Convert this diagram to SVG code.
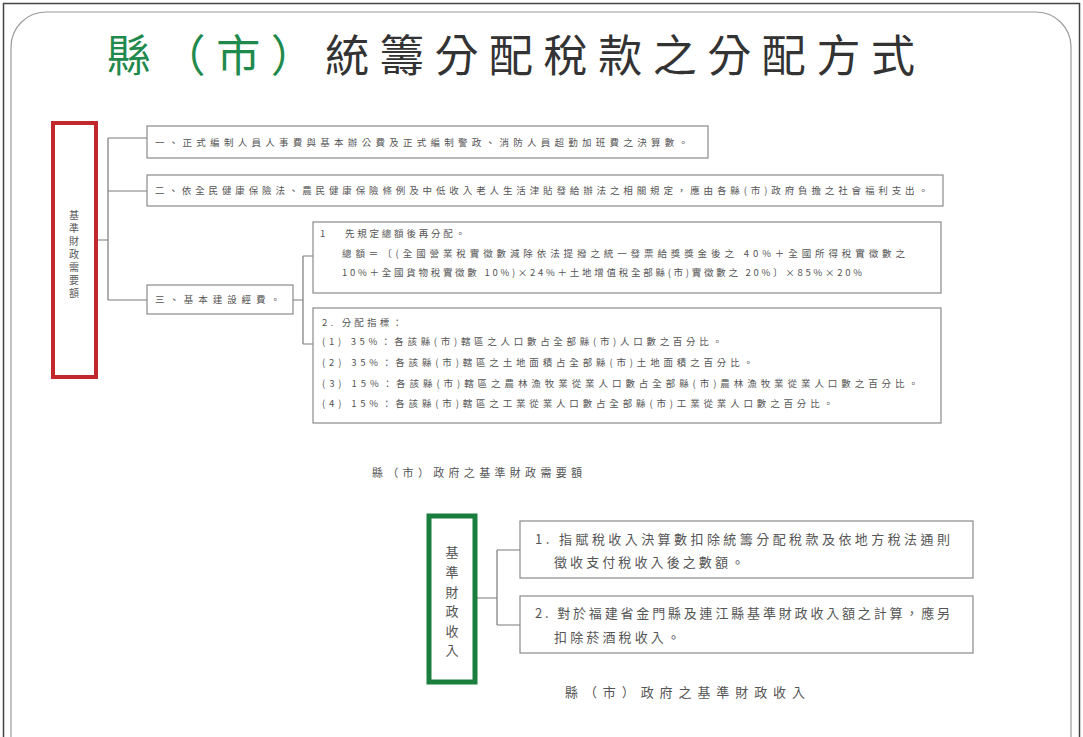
<svg xmlns="http://www.w3.org/2000/svg" width="1083" height="737" viewBox="0 0 1083 737">
<defs>
<style>
.t{font-family:"Noto Sans CJK TC","Noto Sans CJK SC",sans-serif;fill:#555;}
.s{font-size:9.5px;}
.m{font-size:10px;}
.l{font-size:13px;}
.box{fill:#fff;stroke:#8a8a8a;stroke-width:1.2;}
.con{fill:none;stroke:#7a7a7a;stroke-width:1.2;}
</style>
</defs>
<rect x="0" y="0" width="1083" height="737" fill="#fff"/>
<rect x="3.5" y="3.5" width="1076" height="760" fill="none" stroke="#444" stroke-width="1.5"/>
<rect x="11" y="12" width="1060" height="770" rx="35" fill="none" stroke="#9a9a9a" stroke-width="1.2"/>

<g id="title">
<text class="t" x="107" y="72" font-size="44" textLength="808" lengthAdjust="spacing" fill="#333" style="fill:#333"><tspan fill="#1f8a4c" style="fill:#1f8a4c">縣（市）</tspan>統籌分配稅款之分配方式</text>
</g>

<g id="connectors">
<path class="con" d="M97 240 H108 M108 138 V300 M108 138 H147 M108 191 H147 M108 300 H147"/>
<path class="con" d="M293 300 H303 M303 256 V344 M303 256 H313 M303 344 H313"/>
<path class="con" d="M476 598 H497 M497 550 V625 M497 550 H520 M497 625 H520"/>
</g>

<g id="node-need">
<rect x="53" y="123" width="43" height="254" fill="#fff" stroke="#c1272d" stroke-width="4"/>
<text class="t m" text-anchor="middle"><tspan x="74" y="219">基</tspan><tspan x="74" y="232">準</tspan><tspan x="74" y="245">財</tspan><tspan x="74" y="258">政</tspan><tspan x="74" y="271">需</tspan><tspan x="74" y="284">要</tspan><tspan x="74" y="297">額</tspan></text>
</g>

<g id="node-item1">
<rect class="box" x="147" y="126" width="561" height="32"/>
<text class="t s" x="155" y="145.5" textLength="533" lengthAdjust="spacing">一、正式編制人員人事費與基本辦公費及正式編制警政、消防人員超勤加班費之決算數。</text>
</g>

<g id="node-item2">
<rect class="box" x="147" y="175" width="796" height="31"/>
<text class="t s" x="155" y="194" textLength="773" lengthAdjust="spacing">二、依全民健康保險法、農民健康保險條例及中低收入老人生活津貼發給辦法之相關規定，應由各縣(市)政府負擔之社會福利支出。</text>
</g>

<g id="node-item3">
<rect class="box" x="147" y="285" width="146" height="29"/>
<text class="t s" x="155" y="303" textLength="125" lengthAdjust="spacing">三、基本建設經費。</text>
</g>

<g id="node-item3-1">
<rect class="box" x="313" y="222" width="628" height="71"/>
<text class="t s" x="320" y="236.5">1</text>
<text class="t s" x="345" y="236.5" textLength="120" lengthAdjust="spacing">先規定總額後再分配。</text>
<text class="t s" x="342" y="256.5" textLength="563" lengthAdjust="spacing">總額＝〔(全國營業稅實徵數減除依法提撥之統一發票給獎獎金後之 40%＋全國所得稅實徵數之</text>
<text class="t s" x="342" y="275.5" textLength="520" lengthAdjust="spacing">10%＋全國貨物稅實徵數 10%)×24%＋土地增值稅全部縣(市)實徵數之 20%〕×85%×20%</text>
</g>

<g id="node-item3-2">
<rect class="box" x="313" y="308" width="628" height="115"/>
<text class="t s" x="322" y="325.5" textLength="80" lengthAdjust="spacing">2. 分配指標：</text>
<text class="t s" x="322" y="344.5" textLength="400" lengthAdjust="spacing">(1) 35%：各該縣(市)轄區之人口數占全部縣(市)人口數之百分比。</text>
<text class="t s" x="322" y="365.5" textLength="431" lengthAdjust="spacing">(2) 35%：各該縣(市)轄區之土地面積占全部縣(市)土地面積之百分比。</text>
<text class="t s" x="322" y="386.5" textLength="596" lengthAdjust="spacing">(3) 15%：各該縣(市)轄區之農林漁牧業從業人口數占全部縣(市)農林漁牧業從業人口數之百分比。</text>
<text class="t s" x="322" y="406.5" textLength="511" lengthAdjust="spacing">(4) 15%：各該縣(市)轄區之工業從業人口數占全部縣(市)工業從業人口數之百分比。</text>
</g>

<g id="caption-need">
<text class="t" x="372" y="477" font-size="11" textLength="210" lengthAdjust="spacing">縣（市）政府之基準財政需要額</text>
</g>

<g id="node-revenue">
<rect x="429" y="516" width="46" height="166" fill="#fff" stroke="#1a7f3e" stroke-width="5"/>
<text class="t l" text-anchor="middle"><tspan x="452" y="557">基</tspan><tspan x="452" y="577">準</tspan><tspan x="452" y="597">財</tspan><tspan x="452" y="616">政</tspan><tspan x="452" y="636">收</tspan><tspan x="452" y="655">入</tspan></text>
</g>

<g id="node-rev1">
<rect class="box" x="520" y="521" width="453" height="57"/>
<text class="t l" x="535" y="544" textLength="415" lengthAdjust="spacing">1. 指賦稅收入決算數扣除統籌分配稅款及依地方稅法通則</text>
<text class="t l" x="554" y="567" textLength="190" lengthAdjust="spacing">徵收支付稅收入後之數額。</text>
</g>

<g id="node-rev2">
<rect class="box" x="520" y="596" width="453" height="57"/>
<text class="t l" x="535" y="618" textLength="415" lengthAdjust="spacing">2. 對於福建省金門縣及連江縣基準財政收入額之計算，應另</text>
<text class="t l" x="554" y="642" textLength="126" lengthAdjust="spacing">扣除菸酒稅收入。</text>
</g>

<g id="caption-revenue">
<text class="t l" x="565" y="697" textLength="240" lengthAdjust="spacing">縣（市）政府之基準財政收入</text>
</g>
</svg>
